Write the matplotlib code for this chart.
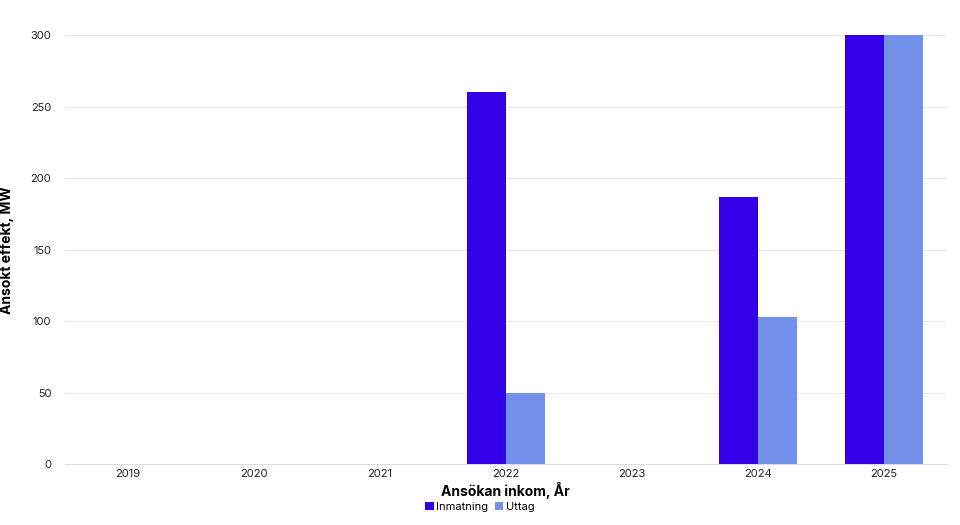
import matplotlib
matplotlib.use("Agg")
import matplotlib.pyplot as plt
import numpy as np

years = ["2019", "2020", "2021", "2022", "2023", "2024", "2025"]
inmatning = [0, 0, 0, 260, 0, 187, 300]
uttag = [0, 0, 0, 50, 0, 103, 300]

plt.rcParams["font.family"] = "Inter"
fig = plt.figure(figsize=(9.6, 5.25), dpi=100)
ax = fig.add_axes([0.068, 0.116, 0.918, 0.817])
x = np.arange(len(years))
w = 0.31
ax.bar(x - w/2, inmatning, w, color="#3300e8", label="Inmatning", zorder=3)
ax.bar(x + w/2, uttag, w, color="#7390ea", label="Uttag", zorder=3)
ax.set_xlim(-0.5, len(years) - 0.5)
ax.set_ylim(0, 300)
ax.set_yticks(range(0, 301, 50))
ax.set_xticks(x)
ax.set_xticklabels(years)
ax.tick_params(labelsize=8, length=0, colors="#222222")
ax.tick_params(axis="y", pad=10)
ax.grid(axis="y", color="#e8e8e8", lw=0.8, zorder=0)
for s in ["top", "right", "left"]:
    ax.spines[s].set_visible(False)
ax.spines["bottom"].set_color("#dddddd")
ax.set_xlabel("Ansökan inkom, År", fontsize=10, fontweight="bold", labelpad=2)
ax.set_ylabel("Ansökt effekt, MW", fontsize=10, fontweight="bold", labelpad=12)
fig.legend(loc="lower center", bbox_to_anchor=(0.5, 0.005), ncol=2, frameon=False,
           fontsize=8, handlelength=0.8, handletextpad=0.2, columnspacing=0.6,
           handler_map=None)
leg = fig.legends[0]
for h in leg.legend_handles:
    h.set_height(6); h.set_width(6)
fig.savefig("out.png", dpi=100)
